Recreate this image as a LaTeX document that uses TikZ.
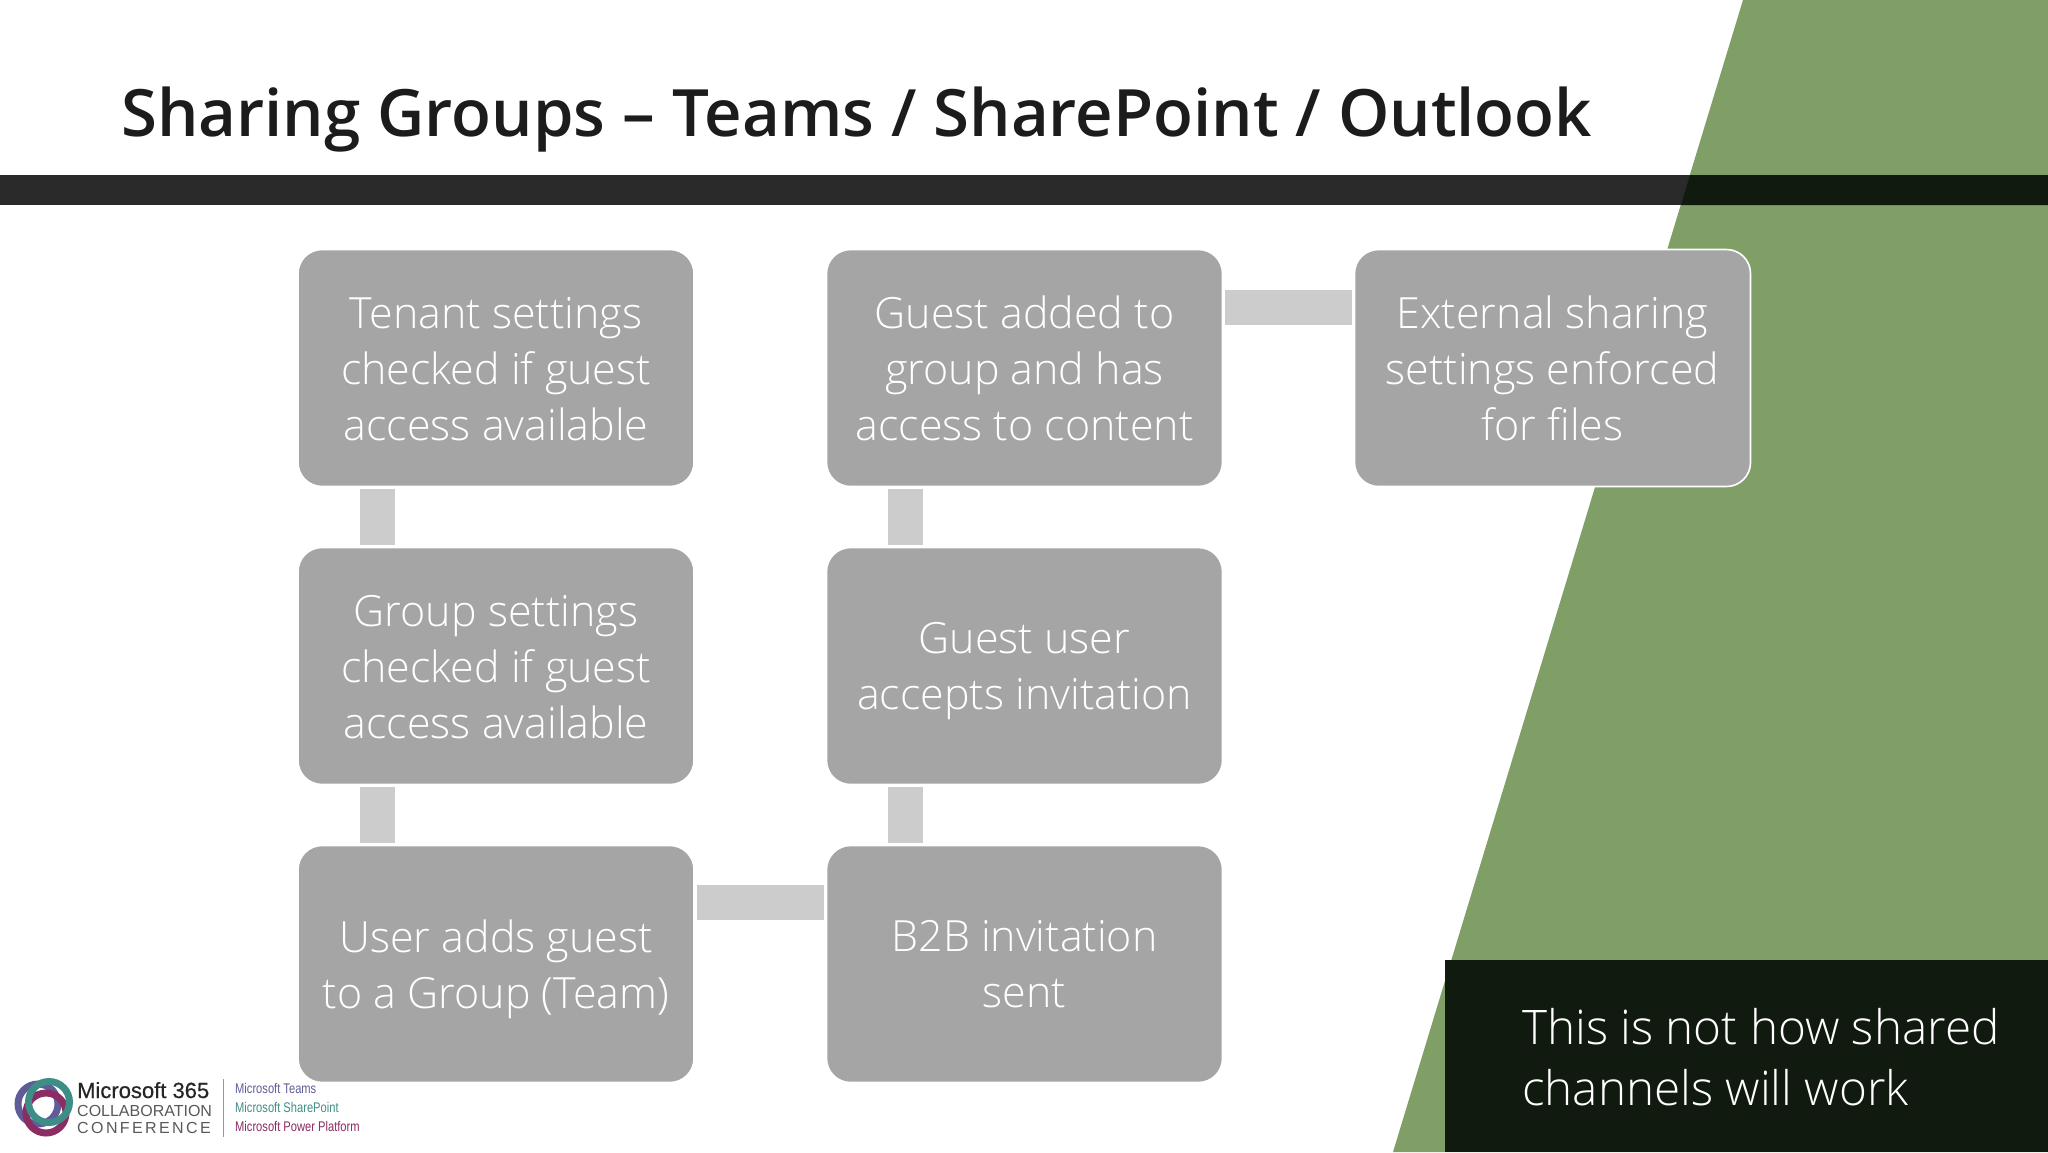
\documentclass[tikz,border=0pt]{standalone}
\usepackage{fontspec}
\usetikzlibrary{calc}
\newfontfamily\lightf{Open Sans Light}
\newfontfamily\titlef{Open Sans Semibold}
\newfontfamily\logof{Liberation Sans}
\newfontfamily\logonarrow[FakeStretch=0.796]{Liberation Sans}
\definecolor{slidegreen}{HTML}{7F9F67}
\definecolor{barblack}{HTML}{2A2A2A}
\definecolor{darkgreen}{HTML}{111A0E}
\definecolor{boxgrey}{HTML}{A5A5A5}
\definecolor{linkgrey}{HTML}{CCCCCC}
\definecolor{titleink}{HTML}{1C1C1C}
\definecolor{ringp}{HTML}{5F5C97}
\definecolor{ringt}{HTML}{3E8E88}
\definecolor{ringm}{HTML}{8B2C62}
\newcommand\tallfirst{\rule{0pt}{34.2pt}}
\tikzset{
  flowbox/.style={draw=white,line width=1.6pt,fill=boxgrey,rounded corners=24pt,minimum width=396pt,minimum height=237pt,inner sep=0pt,text=white,align=center,font={\lightf\fontsize{43}{56}\selectfont}},
  linkbar/.style={draw=linkgrey,line width=35pt,shorten >=2pt,shorten <=2pt},
  logotext/.style={inner sep=0pt,anchor=base west},
  logoring/.style={line width=7pt},
}
\begin{document}
\begin{tikzpicture}[x=1pt,y=-1pt]
\useasboundingbox (0,0) rectangle (2048,1152);
\fill[white] (0,0) rectangle (2048,1152);
\fill[slidegreen] (1743,0) -- (2048,0) -- (2048,1152) -- (1393,1152) -- cycle;
\fill[barblack] (0,175) rectangle (2048,205);
\fill[darkgreen] (1690,175) -- (2048,175) -- (2048,205) -- (1681,205) -- cycle;
\fill[darkgreen] (1445,960) rectangle (2048,1152);
\node[anchor=base west,inner sep=0pt,text=titleink,font={\titlef\fontsize{65.3}{70}\selectfont}] (title) at (121,136) {Sharing Groups – Teams / SharePoint / Outlook};
\node[flowbox] (tenant) at (496,368) {\tallfirst Tenant settings\\checked if guest\\access available};
\node[flowbox] (group) at (496,666) {\tallfirst Group settings\\checked if guest\\access available};
\node[flowbox] (user) at (496,964) {User adds guest\\\smash{to a Group (Team)}};
\node[flowbox] (invite) at (1024.5,964) {B2B invitation\\sent};
\node[flowbox] (accept) at (1024.5,666) {Guest user\\\smash{accepts invitation}};
\node[flowbox] (added) at (1024.5,368) {\tallfirst Guest added to\\group and has\\access to content};
\node[flowbox] (external) at (1552.5,368) {\tallfirst External sharing\\settings enforced\\for files};
\coordinate (colA) at (377.5,0);
\coordinate (colB) at (905,0);
\coordinate (rowA) at (0,307.5);
\coordinate (rowB) at (0,902.5);
\draw[linkbar] (tenant.south -| colA) -- (group.north -| colA);
\draw[linkbar] (group.south -| colA) -- (user.north -| colA);
\draw[linkbar] (user.east |- rowB) -- (invite.west |- rowB);
\draw[linkbar] (invite.north -| colB) -- (accept.south -| colB);
\draw[linkbar] (accept.north -| colB) -- (added.south -| colB);
\draw[linkbar] (added.east |- rowA) -- (external.west |- rowA);
\node[anchor=north west,inner sep=0pt,text=white,align=left,font={\lightf\fontsize{47.6}{61}\selectfont}] (note) at (1522,1008) {This is not how shared\\channels will work};
% logo
\draw[ringp,logoring] (38,1104) circle (20pt);
\draw[ringm,logoring] (46,1113) circle (20pt);
\draw[ringt,logoring] (49,1102) circle (20.5pt);
\node[logotext,text=black!85,font={\logof\fontsize{22}{22}\selectfont\addfontfeature{FakeBold=0.4}}] (logoA) at (77,1098) {Microsoft 365};
\node[logotext,text=black!65,font={\logof\fontsize{16}{16}\selectfont}] (logoB) at (77,1116) {COLLABORATION};
\node[logotext,text=black!65,font={\logof\fontsize{16}{16}\selectfont\addfontfeature{LetterSpace=15}}] (logoC) at (77,1133) {CONFERENCE};
\draw[black!40,line width=1pt] (223,1079) -- (223,1137);
\node[logotext,text=ringp,font={\logonarrow\fontsize{14}{14}\selectfont}] (logoD) at (235,1093) {Microsoft Teams};
\node[logotext,text=ringt,font={\logonarrow\fontsize{14}{14}\selectfont}] (logoE) at (235,1112) {Microsoft SharePoint};
\node[logotext,text=ringm,font={\logonarrow\fontsize{14}{14}\selectfont}] (logoF) at (235,1131) {Microsoft Power Platform};
\end{tikzpicture}
\end{document}
